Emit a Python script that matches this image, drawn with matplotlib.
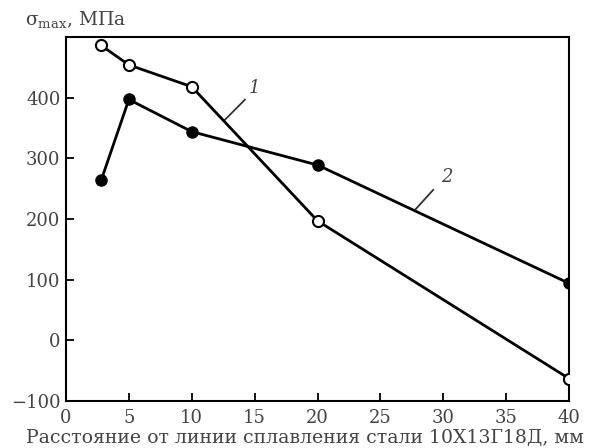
import matplotlib
matplotlib.use("Agg")
from matplotlib import pyplot as plt

# расстояние от линии сплавления, мм и sigma_max, МПа
x1 = [2.8, 5, 10, 20, 40]
sigma1 = [486, 454, 418, 197, -63]
x2 = [2.8, 5, 10, 20, 40]
sigma2 = [264, 397, 344, 289, 94]

x_ticks = [0, 5, 10, 15, 20, 25, 30, 35, 40]
y_ticks = [-100, 0, 100, 200, 300, 400]

plt.rcParams['font.family'] = ['DejaVu Serif']
plt.rcParams['mathtext.fontset'] = 'dejavuserif'
txt = '#444444'

fig = plt.figure(figsize=(5.92, 4.48), dpi=100)
ax = fig.add_axes([66 / 592, 1 - 401 / 448, 503 / 592, 364 / 448])

ax.plot(x1, sigma1, '-', color='black', lw=2.0, marker='o', ms=8,
        mfc='white', mec='black', mew=1.5, zorder=3)
ax.plot(x2, sigma2, '-', color='black', lw=2.0, marker='o', ms=8,
        mfc='black', mec='black', zorder=3)

# выноски к кривым
ax.plot([12.64, 14.23], [363.6, 396.7], color='#333333', lw=1.3)
ax.text(15.0, 416, '1', fontsize=13, style='italic', color=txt, ha='center', va='center')
ax.plot([27.75, 29.2], [214.9, 248], color='#333333', lw=1.3)
ax.text(30.3, 270, '2', fontsize=13, style='italic', color=txt, ha='center', va='center')

ax.set_xlim(0, 40)
ax.set_ylim(-100, 500)
ax.set_xticks(x_ticks)
ax.set_yticks(y_ticks)
ax.set_yticklabels(['\u2212100', '0', '100', '200', '300', '400'])
ax.tick_params(direction='in', length=6, width=1.3, labelsize=13, labelcolor=txt, pad=4)
ax.tick_params(axis='x', pad=6)
for s in ax.spines.values():
    s.set_linewidth(1.5)

# подписи осей
fig.text(305 / 592, 1 - 438 / 448, 'Расстояние от линии сплавления стали 10Х13Г18Д, мм',
         fontsize=13.6, color=txt, ha='center', va='center')
fig.text(25 / 592, 1 - 20 / 448, r'σ$_{\rm max}$, МПа', fontsize=13.5, color=txt,
         ha='left', va='center')

fig.savefig('out.png', dpi=100)
